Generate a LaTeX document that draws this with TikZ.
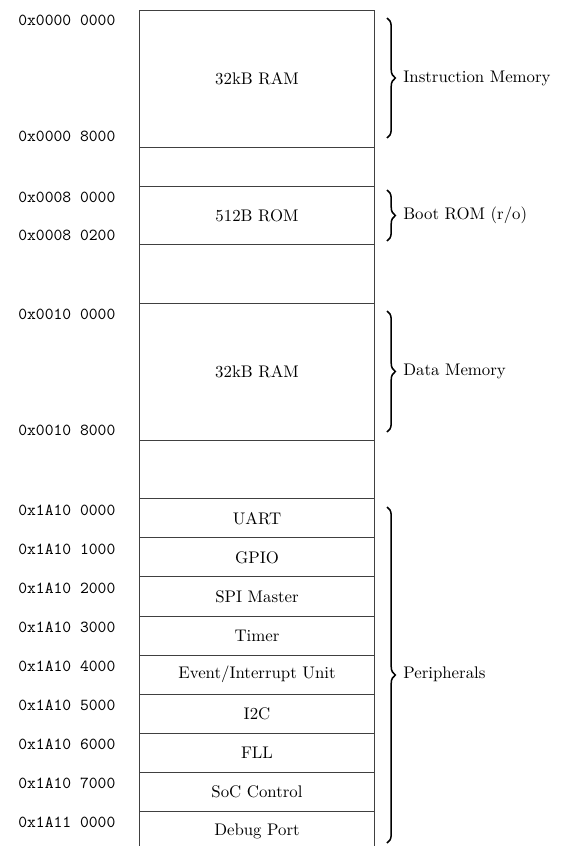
\documentclass[tikz,border=0pt]{standalone}
\usetikzlibrary{decorations.pathreplacing}
\begin{document}
\begin{tikzpicture}[x=0.595pt,y=-0.595pt,
  cell/.style={draw=black!75,line width=0.6pt,minimum width=140.4pt,inner sep=0pt},
  addr/.style={anchor=west,inner sep=0pt,font=\ttfamily},
  curly/.style={decorate,decoration={brace,amplitude=5pt},line width=0.9pt},
  region/.style={anchor=west,inner sep=0pt}]
\useasboundingbox (0,0) rectangle (560,846);
% memory map column
\node[cell,minimum height=81.35pt] (iram) at (257,78.85) {32kB RAM};
\node[cell,minimum height=23.25pt] (gapa) at (257,166.75) {};
\node[cell,minimum height=34.87pt] (rom)  at (257,215.6) {512B ROM};
\node[cell,minimum height=34.87pt] (gapb) at (257,274.2) {};
\node[cell,minimum height=81.35pt] (dram) at (257,371.85) {32kB RAM};
\node[cell,minimum height=34.87pt] (gapc) at (257,469.5) {};
\node[cell,minimum height=23.25pt] (uart) at (257,518.35) {UART};
\node[cell,minimum height=23.25pt] (gpio) at (257,557.45) {GPIO};
\node[cell,minimum height=23.25pt] (spi)  at (257,596.5) {SPI Master};
\node[cell,minimum height=23.25pt] (tim)  at (257,635.55) {Timer};
\node[cell,minimum height=23.25pt] (evt)  at (257,674.65) {Event/Interrupt Unit};
\node[cell,minimum height=23.25pt] (itc)  at (257,713.7) {I2C};
\node[cell,minimum height=23.25pt] (fll)  at (257,752.75) {FLL};
\node[cell,minimum height=23.25pt] (soc)  at (257,791.85) {SoC Control};
\node[cell,minimum height=23.25pt] (dbg)  at (257,830.9) {Debug Port};
% addresses
\node[addr] (a1)  at (18,20.5)  {0x0000 0000};
\node[addr] (a2)  at (18,136)   {0x0000 8000};
\node[addr] (a3)  at (18,197.5) {0x0008 0000};
\node[addr] (a4)  at (18,235)   {0x0008 0200};
\node[addr] (a5)  at (18,314)   {0x0010 0000};
\node[addr] (a6)  at (18,430)   {0x0010 8000};
\node[addr] (a7)  at (18,510)   {0x1A10 0000};
\node[addr] (a8)  at (18,549)   {0x1A10 1000};
\node[addr] (a9)  at (18,588)   {0x1A10 2000};
\node[addr] (a10) at (18,627)   {0x1A10 3000};
\node[addr] (a11) at (18,666)   {0x1A10 4000};
\node[addr] (a12) at (18,705)   {0x1A10 5000};
\node[addr] (a13) at (18,744)   {0x1A10 6000};
\node[addr] (a14) at (18,783)   {0x1A10 7000};
\node[addr] (a15) at (18,822)   {0x1A11 0000};
% braces
\coordinate (bit) at (387,18);  \coordinate (bib) at (387,138);
\coordinate (bbt) at (387,190); \coordinate (bbb) at (387,241);
\coordinate (bdt) at (387,311); \coordinate (bdb) at (387,432);
\coordinate (bpt) at (387,507); \coordinate (bpb) at (387,843);
\draw[curly] (bit) -- (bib);
\draw[curly] (bbt) -- (bbb);
\draw[curly] (bdt) -- (bdb);
\draw[curly] (bpt) -- (bpb);
% region names
\node[region] (ri) at (403,78.85)  {Instruction Memory};
\node[region] (rb) at (403,215.6)  {Boot ROM (r/o)};
\node[region] (rd) at (403,371.85) {Data Memory};
\node[region] (rp) at (403,674.65) {Peripherals};
\end{tikzpicture}
\end{document}
